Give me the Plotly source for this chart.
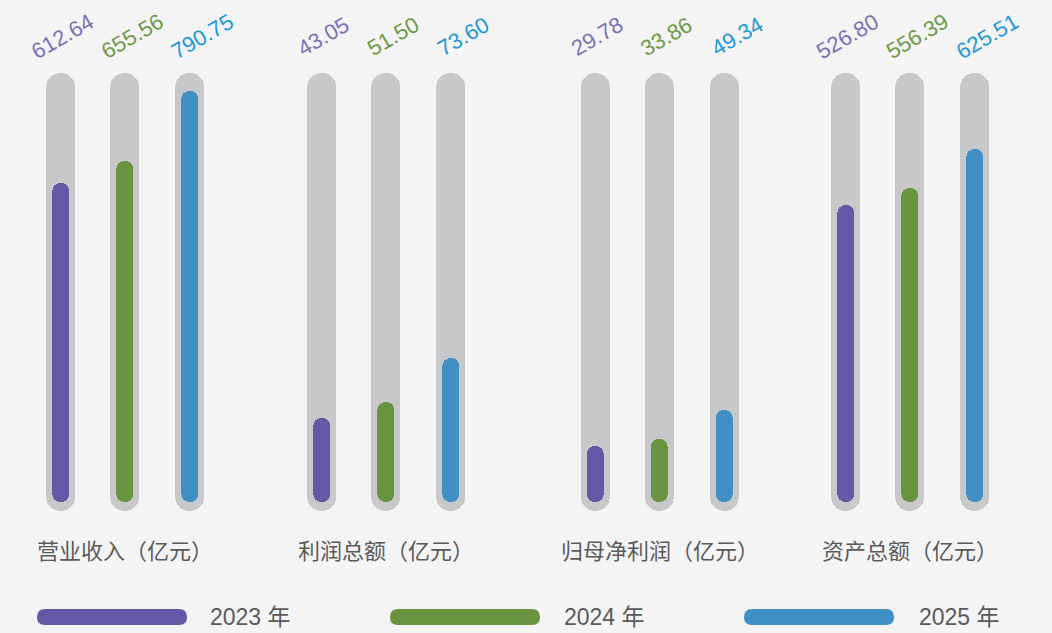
import plotly.graph_objects as go

# ---------------- data ----------------
categories = ["营业收入（亿元）", "利润总额（亿元）", "归母净利润（亿元）", "资产总额（亿元）"]
years = ["2023 年", "2024 年", "2025 年"]
values_2023 = [612.64, 43.05, 29.78, 526.80]
values_2024 = [655.56, 51.50, 33.86, 556.39]
values_2025 = [790.75, 73.60, 49.34, 625.51]
# value reached at the top of each grey track (per-group scale)
track_max = [825, 220, 230, 760]

series = [values_2023, values_2024, values_2025]
fill_colors = ["#6658a6", "#6a9340", "#3f8fc4"]
label_colors = ["#7b70b6", "#6c9a48", "#1c98d8"]
label_xshift = [2, 7, 13]
track_color = "#c7c8ca"
bg = "#f4f4f4"
text_color = "#5a5a5a"
FONT = "Liberation Sans, Arial, Noto Sans CJK SC, sans-serif"

W, H = 1052, 633
def px_x(x):
    return x / W
def px_y(y):
    return 1 - y / H

# layout geometry (pixels)
group_centers = [125, 386, 659.5, 910]
spacing = 64.5
track_w = 29 / spacing
fill_w = 17 / spacing
dom_top, dom_bot = 66, 518
track_top_px, track_bot_px, fill_base_px = 73, 511, 502

fig = go.Figure()
layout_axes = {}
annotations = []

for g, cat in enumerate(categories):
    sfx = "" if g == 0 else str(g + 1)
    xa, ya = "x" + sfx, "y" + sfx
    ymax = track_max[g]
    k = (fill_base_px - track_top_px) / ymax  # px per unit
    ymin_track = -(track_bot_px - fill_base_px) / k
    r_lo = -(dom_bot - fill_base_px) / k
    r_hi = ymax + (track_top_px - dom_top) / k
    xs = [0, 1, 2]
    span = ymax - ymin_track
    # grey tracks (two overlapping halves, each rounded at its far end)
    fig.add_trace(go.Bar(x=xs, y=[span * 0.7] * 3, base=[ymin_track + span * 0.3] * 3,
                         width=track_w, marker=dict(color=track_color, cornerradius="50%", line_width=0),
                         xaxis=xa, yaxis=ya, showlegend=False, hoverinfo="skip"))
    fig.add_trace(go.Bar(x=xs, y=[-span * 0.7] * 3, base=[ymin_track + span * 0.7] * 3,
                         width=track_w, marker=dict(color=track_color, cornerradius="50%", line_width=0),
                         xaxis=xa, yaxis=ya, showlegend=False, hoverinfo="skip"))
    for i in range(3):
        v = series[i][g]
        fig.add_trace(go.Bar(x=[i], y=[v * 0.7], base=[v * 0.3], width=fill_w,
                             marker=dict(color=fill_colors[i], cornerradius="50%", line_width=0),
                             xaxis=xa, yaxis=ya, showlegend=False, hoverinfo="skip"))
        fig.add_trace(go.Bar(x=[i], y=[-v * 0.7], base=[v * 0.7], width=fill_w,
                             marker=dict(color=fill_colors[i], cornerradius="50%", line_width=0),
                             xaxis=xa, yaxis=ya, showlegend=False, hoverinfo="skip"))
        annotations.append(dict(x=i, y=px_y(37), xref=xa, yref="paper", text=f"{v:.2f}",
                                showarrow=False, textangle=-30, xshift=label_xshift[i],
                                xanchor="center", yanchor="middle",
                                font=dict(family=FONT, size=22, color=label_colors[i])))
    annotations.append(dict(x=1, y=px_y(549), xref=xa, yref="paper", text=cat,
                            showarrow=False, xanchor="center", yanchor="middle",
                            font=dict(family="Noto Sans CJK SC, sans-serif", size=22, color=text_color)))
    c = group_centers[g]
    layout_axes["xaxis" + sfx] = dict(domain=[px_x(c - 1.5 * spacing), px_x(c + 1.5 * spacing)],
                                      range=[-0.5, 2.5], visible=False, fixedrange=True, anchor=ya)
    layout_axes["yaxis" + sfx] = dict(domain=[px_y(dom_bot), px_y(dom_top)], range=[r_lo, r_hi],
                                      visible=False, fixedrange=True, anchor=xa)

# custom legend
legend_bars = [(37, 187), (390, 540), (744, 894)]
legend_text_x = [208, 562, 917]
shapes = []
ly0, ly1 = 609, 625
r = 8
for i, (x0, x1) in enumerate(legend_bars):
    pts = [
        ("M", x0 + r, ly0), ("L", x1 - r, ly0), ("Q", x1, ly0, x1, ly0 + r),
        ("Q", x1, ly1, x1 - r, ly1), ("L", x0 + r, ly1), ("Q", x0, ly1, x0, ly1 - r),
        ("Q", x0, ly0, x0 + r, ly0),
    ]
    path = ""
    for p in pts:
        cmd = p[0]
        coords = p[1:]
        s = []
        for j in range(0, len(coords), 2):
            s.append(f"{px_x(coords[j]):.5f},{px_y(coords[j+1]):.5f}")
        path += cmd + " " + " ".join(s) + " "
    path += "Z"
    shapes.append(dict(type="path", path=path, xref="paper", yref="paper",
                       fillcolor=fill_colors[i], line=dict(width=0)))
    annotations.append(dict(x=px_x(legend_text_x[i]), y=px_y(617), xref="paper", yref="paper",
                            text=years[i], showarrow=False, xanchor="left", yanchor="middle",
                            font=dict(family=FONT, size=23, color=text_color)))

fig.update_layout(
    width=W, height=H, margin=dict(l=0, r=0, t=0, b=0),
    paper_bgcolor=bg, plot_bgcolor="rgba(0,0,0,0)",
    barmode="overlay", bargap=0, showlegend=False,
    annotations=annotations, shapes=shapes, hovermode=False,
    **layout_axes,
)
fig.write_html("out.html", config={"displayModeBar": False},
               post_script="document.body.style.margin='0';document.body.style.overflow='hidden';")
